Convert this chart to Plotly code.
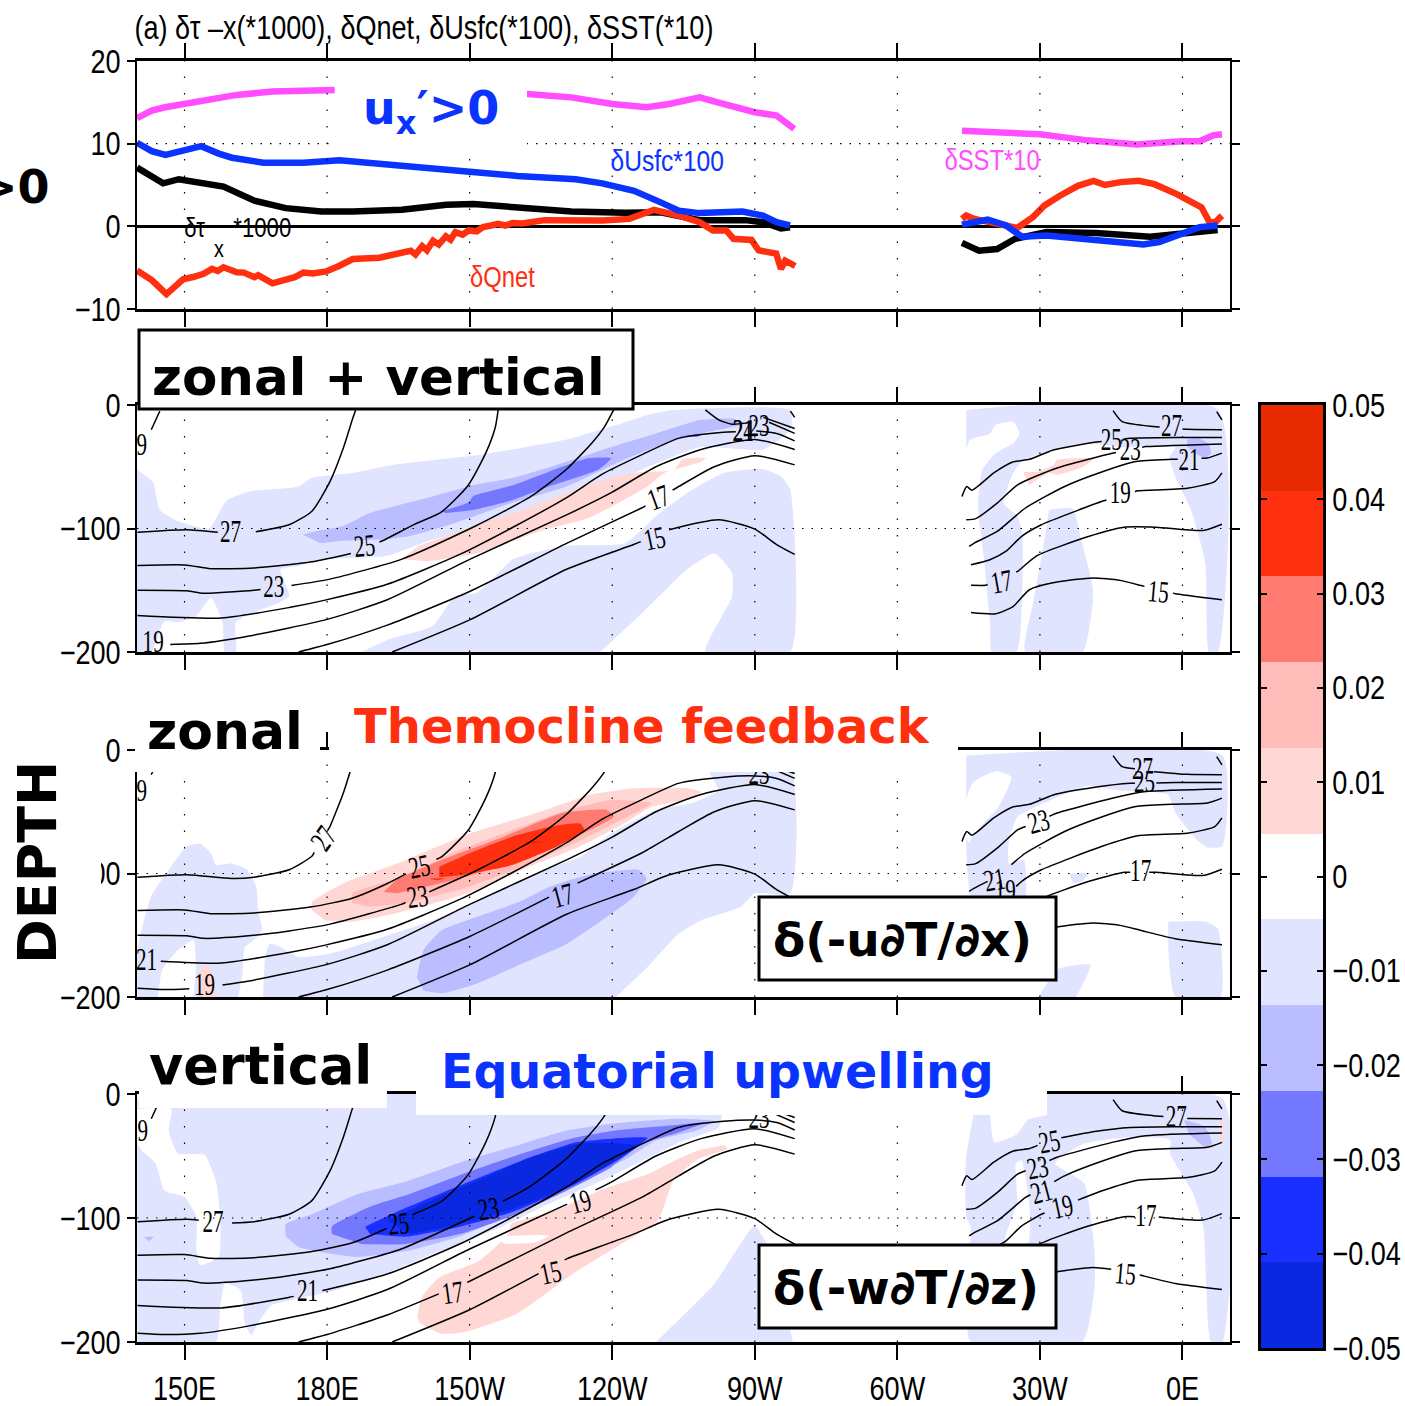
import plotly.graph_objects as go

W, H = 1405, 1406
SANS = "Liberation Sans, sans-serif"
SERIF = "Liberation Serif, serif"
BOLD = "DejaVu Sans, sans-serif"

# palette bands
C1, C2, C3, C4, C5 = "#e1e4ff", "#babdff", "#7478ff", "#1a30ff", "#0a28e0"
R1, R2, R3, R4, R5 = "#ffd8d6", "#ffbcb8", "#ff7a70", "#ff3010", "#e82a00"
WHITE = "#ffffff"
PINK, BLUE, RED = "#ff4dff", "#0a33ff", "#ff3010"

x_ticks = [150, 180, 210, 240, 270, 300, 330, 360]
x_labels = ["150E", "180E", "150W", "120W", "90W", "60W", "30W", "0E"]

# ---------- top panel series (longitude, value) ----------
sst_pac = [(140,13.1),(143.1,14),(145.9,14.4),(150,14.8),(157.2,15.4),(161,15.9),(168.5,16.3),(180,16.5),(181.6,16.5),
           (None,None),(220.1,16.1),(231.4,15.6),(240,14.8),(247.3,14.4),(252,14.8),(258.4,15.6),(262.2,15),(270,13.8),(274.6,13.4),(278.3,11.8)]
sst_atl = [(313.6,11.55),(324.8,11.3),(330,11.15),(340,10.4),(350.4,9.9),(360,10.3),(363.6,10.3),(366.4,11),(368.3,11.15)]
usfc_pac = [(140,10.1),(143.1,9.1),(146,8.65),(148.8,9.1),(153.5,9.7),(157.2,8.8),(160,8.3),(166.6,7.7),(175,7.7),(182.6,8),
            (200.4,7.2),(210,6.6),(220.1,6.1),(232.3,5.7),(237.9,5.2),(244.6,4.3),(250.2,2.9),(254,1.9),(258.4,1.6),(267.4,1.8),(271.7,1.3),(274.6,0.5),(277.4,0.1)]
usfc_atl = [(313.6,0.2),(319,0.8),(322.9,0.1),(326.2,-1.25),(331.4,-1.1),(341.8,-1.7),(351.8,-2.2),(355.1,-1.9),(360,-0.9),(363.6,-0.1),(367.4,0.1)]
taux_pac = [(140,7.1),(143.1,5.9),(145.5,5.2),(148.8,5.7),(153.5,5.3),(158.2,4.8),(164.7,3.1),(171.3,2.2),(178.8,1.8),(185.4,1.8),
            (195.7,2),(205.1,2.6),(210.8,2.7),(219.2,2.4),(231.4,1.8),(242.7,1.65),(250.2,1.7),(258.4,0.75),(268,0.75),(271.7,0.5),(275.5,-0.25),(277.4,-0.1)]
taux_atl = [(313.6,-2),(317.2,-2.95),(321,-2.75),(324.8,-1.5),(331.4,-0.7),(341.8,-0.8),(353.2,-1.25),(360,-0.85),(367.4,-0.45)]
qnet_pac = [(140,-5.35),(143.1,-6.5),(146.2,-8.2),(149.7,-6.4),(152,-6.1),(154,-5.75),(155.8,-5.15),(157,-5.4),(158.2,-4.95),(161,-5.55),(162.5,-5.6),(164.7,-6.15),(165.5,-5.9),(168.5,-6.9),
            (173.2,-6.15),(175,-5.6),(177,-5.7),(179.8,-5.45),(182.5,-4.8),(185.4,-3.95),(191,-3.8),(194,-3.4),(196,-3.3),(197.6,-2.95),(198.6,-3.4),(200,-2.4),(201,-2.9),(202.3,-1.75),
            (203.5,-2.2),(205,-1.2),(206,-1.6),(207,-0.7),(208.5,-1.0),(209.8,-0.5),(211.5,-0.6),(212.8,-0.1),(214.5,0.1),(216,0.3),(217.5,0.1),(219,0.4),(221,0.35),(225.8,0.75),
            (238,0.7),(243.6,0.9),(248.8,2),(254,1.3),(258.4,0.5),(261.2,-0.5),(264,-0.5),(265.5,-1.5),(269.3,-1.65),(270.8,-2.9),(274.5,-3.3),(275.5,-5.15),(276.4,-4.15),(278.5,-4.8)]
qnet_atl = [(313.6,0.9),(314.5,1.3),(316.2,0.9),(320,0.35),(325.2,-0.2),(328.5,1.1),(330.9,2.5),(334.2,3.7),(338,4.9),(341.3,5.5),(343.7,5),(347,5.35),
            (350.8,5.5),(354.1,5.1),(358.8,3.9),(364,2.3),(365.7,0.5),(366.9,0.5),(368.3,1.3)]

# ---------- isotherms shared by the three depth panels (longitude, depth) ----------
P29 = [(143,-20),(144.8,-5)]
P27 = [(140.1,-103),(150.5,-101),(159.9,-104),(164.6,-103),(172,-97),(176.8,-86),(180.6,-62),(183.4,-35),(185.3,-12),(186,-4)]
P25 = [(140.1,-130),(150,-129.5),(155.5,-132.5),(164.6,-132),(176.8,-127),(185.3,-120),(191.9,-109.5),(198.5,-96.5),(204.1,-86.5),(209.7,-65),(213.5,-38),(215.4,-18),(216,-4)]
P23 = [(140.1,-150),(150.5,-150.5),(154,-152.5),(164.6,-150),(172,-146.5),(180.6,-141),(195.6,-125),(210.7,-99),(217.3,-86),(222.9,-74),(230.4,-52),(236,-29.5),(238.4,-17.5),(240.3,-4)]
P21 = [(140.1,-170.5),(157.8,-172.5),(172,-164),(179.6,-158),(192.8,-145),(207.9,-121),(219.1,-99),(230.4,-75),(237.9,-56),(246.4,-40),(253.9,-27),(263.4,-22),(270,-21),(274.6,-23),(278.4,-29)]
P19 = [(140.1,-193),(145.8,-194),(153.3,-193),(163.6,-187),(180,-173.6),(192.8,-157.5),(210,-125),(230.4,-89),(239.8,-71),(249.2,-50),(258.7,-36),(270,-28),(278.4,-36)]
P17 = [(174,-200),(180,-194),(192.8,-178),(210,-151),(230.4,-112),(246.4,-83),(254,-66),(261.5,-50),(270,-41),(278.4,-48.5)]
P15 = [(193.7,-200),(210,-174),(230.4,-133),(244.5,-113),(252,-101),(262.4,-93),(270,-100.5),(274.6,-113),(278.4,-121)]
E1 = [(277.5,-5),(278.4,-10)]
E2 = [(259.6,-4),(262.4,-12),(265.2,-15.5),(270,-14),(272.7,-13.5),(278.4,-23)]
E3 = [(271.8,-10),(278.4,-19)]
A27a = [(345.4,-4.6),(347.3,-13.5),(353.9,-17.5),(361,-19.7),(368.3,-20)]
A27b = [(367.2,-5.4),(368.3,-12)]
A25 = [(313.6,-74),(314.6,-66),(315.7,-69),(320.3,-55),(324.4,-46),(327.8,-44),(332.8,-36.4),(341.9,-30),(349,-27),(358.5,-26.4),(368.3,-26.4)]
A23 = [(314.5,-93),(316.5,-92),(321,-79.5),(325.3,-64.7),(333.6,-51),(345.2,-39),(352.3,-33.7),(368.3,-31.5)]
A21 = [(315.1,-114.5),(316.1,-112),(321,-102.4),(326.9,-83.6),(335.2,-66),(342.7,-54.7),(350.2,-45.8),(357.7,-44),(365.2,-43),(368.3,-39)]
A19 = [(315.5,-129.4),(319.5,-125.3),(322.8,-118.6),(326.1,-106.5),(330.3,-97),(343.1,-78),(350.6,-69.5),(361,-67.4),(366.8,-62),(368.3,-55)]
A17 = [(315.5,-146),(318.6,-146),(325.3,-134.8),(329.4,-122),(340.2,-106.5),(347.7,-99),(354.4,-99),(364.3,-101.6),(368.3,-96.5)]
A15 = [(315.5,-168),(320.7,-169),(324.4,-163),(327.8,-149.6),(333.6,-143.4),(341.1,-140),(346.9,-142),(351.5,-146.4),(358.5,-152.8),(368.3,-157.7)]
ISOS = dict(P29=P29,P27=P27,P25=P25,P23=P23,P21=P21,P19=P19,P17=P17,P15=P15,E1=E1,E2=E2,E3=E3,
            A27a=A27a,A27b=A27b,A25=A25,A23=A23,A21=A21,A19=A19,A17=A17,A15=A15)

# isotherm label gaps per panel: line -> longitude range
gaps2 = dict(P27=(157,165),P25=(185,191),P23=(166,172.5),P19=(140,147),P17=(247,252.7),P15=(246,252),P21=(266,270.3),E2=(268.5,273),
             A27a=(355.2,360),A25=(343,347.5),A23=(346,351.5),A21=(359,364),A19=(344,350),A17=(319,325),A15=(352,358))
gaps3 = dict(P27=(177.3,180.1),P25=(196.6,203),P23=(196.5,201.5),P21=(140,145),P19=(151,158),P17=(226.7,232.7),E2=(268.5,273),
             A27a=(350,354),A25=(350,354.5),A23=(327,332),A21=(319,324),A19=(319,325),A17=(349,353))
gaps4 = dict(P27=(153,160),P25=(192.5,198),P23=(211,217),P21=(173,179),P19=(230.5,236.5),P17=(203.5,209.5),P15=(224.5,230),E2=(268.5,273),
             A27a=(356,361),A25=(329.5,334.5),A23=(327,332),A21=(328,333),A19=(331,338),A17=(350,355),A15=(345,351))

# isotherm labels: lon, depth, text, angle
labels2 = [(139.9,-34,"29",0),(159.7,-105,"27",0),(187.9,-114,"25",-5),(168.8,-149,"23",0),(143.4,-194,"19",0),(249.7,-75,"17",-20),(248.8,-108,"15",-12),
           (267.6,-23,"21",0),(267.6,-23,"24",0),(270.9,-19,"23",0),
           (357.7,-19,"27",0),(345,-30,"25",0),(349,-38,"23",0),(361.4,-46,"21",0),(346.9,-73,"19",0),(321.9,-143,"17",-10),(355,-151,"15",5)]
labels3 = [(139.9,-35,"29",0),(179.2,-71.6,"27",-55),(199.4,-94.6,"25",-12),(199,-119,"23",-8),(142,-172,"21",0),(154.2,-192,"19",0),(229.5,-117.6,"17",-15),(270.9,-21,"23",0),
           (351.6,-17,"27",0),(352,-27.4,"25",0),(329.6,-58,"23",-15),(320.5,-105,"21",-10),(322.7,-116,"19",0),(351.2,-100,"17",0)]
labels4 = [(140.1,-32,"29",0),(156,-105,"27",0),(195,-104.7,"25",-5),(214,-92.6,"23",-8),(175.9,-161,"21",0),(233.3,-87,"19",-15),(206.4,-160,"17",-8),(227,-143.6,"15",-12),(270.9,-21,"23",0),
           (358.7,-20,"27",0),(332,-38.7,"25",-10),(329.5,-59,"23",-10),(330.4,-79,"21",-15),(334.7,-91,"19",-12),(352.3,-100,"17",0),(348,-145,"15",5)]

# ---------- filled bands: zonal + vertical ----------
P2_C1_upper = [(140,-52),(143.4,-63),(144.8,-85),(148.6,-94),(155.2,-100),(158,-82),(159,-77),(163.6,-70),(174,-66),(176.8,-59),(185.3,-55),(194.7,-48),
    (212.6,-40),(230.4,-28),(239.8,-17.5),(247.4,-8),(253,-4),(277.5,-4),(277.5,-20),(271.8,-36),(258.7,-34),(244.5,-55),(230.4,-77),(218.2,-96),(202.2,-109),
    (192.8,-122),(178.7,-125),(174,-130.5),(170.2,-133),(172,-155),(164.6,-168),(160.8,-176),(160.8,-200),(158.5,-200),(158,-176),(155.6,-156),(152.4,-171),
    (148.6,-176),(145.8,-175),(143,-200),(140,-200)]
P2_C1_lower = [(187.2,-200),(192.8,-190),(202.2,-179),(206.9,-155),(211.6,-152),(219.1,-125),(230.4,-114),(242.7,-112),(249.2,-90),(255.8,-71),(263.4,-55),
    (271.8,-52),(275.6,-58),(277.5,-69),(277.5,-200),(259.6,-200),(265.2,-155),(265.2,-136),(261.5,-120),(255.8,-133),(246.4,-168),(237.5,-200)]
P2_C2 = [(174.9,-105),(177.8,-102),(183.4,-98),(189,-87.5),(202.2,-74),(210.7,-65),(220.1,-58),(230.4,-46),(239.8,-34),(249.2,-23),(258.7,-12),(265.2,-11),(268,-15),
    (258.7,-23),(252,-30),(242.7,-44),(230.4,-66),(219.1,-79),(206.9,-95.5),(197.5,-106),(190.9,-109),(183.4,-110),(178.7,-112)]
P2_C3 = [(204.1,-86),(209.7,-79),(210.7,-74),(219.1,-65),(226.7,-54),(235.1,-43),(239.8,-43),(237,-52.5),(226.7,-66),(218.2,-78),(210.7,-85),(205,-87.5)]
P2_C3b = [(254,-25.5),(258.7,-24),(257.8,-26)]
P2_R1 = [(195.6,-125),(199.4,-114),(206,-105),(214.4,-93),(221,-85),(230.4,-71),(237.9,-60.5),(244.5,-55),(253,-52.5),(254.8,-44),(259.6,-43),(258.7,-46),(251,-55),
    (247.4,-66),(235.1,-91.5),(225.7,-101),(211.6,-120),(201.3,-126.5)]
P2_A_C1 = [(314.5,-4),(367.5,-4),(367.5,-200),(365.6,-200),(364.8,-128),(361.8,-85),(358.5,-58),(357.3,-42),(358.5,-34),(346.9,-34),(340.2,-31),(332.8,-36),(326.1,-46),
    (324,-58),(322.4,-80),(325.3,-90),(326.3,-104),(326.3,-150),(325.1,-200),(319.9,-200),(319.5,-177),(318.2,-123),(317,-85),(317.8,-53),(320.7,-39),(324.4,-31),(325.7,-23),
    (324.4,-13.5),(320.7,-16),(319.5,-23),(315.3,-28),(314.5,-36)]
P2_A_C1b = [(331.9,-85),(336.9,-84),(338.5,-106),(341.1,-147),(341.1,-160),(339,-200),(326.9,-200),(328.6,-160),(330.7,-115)]
P2_A_C2 = [(361,-28),(363.5,-27),(365.6,-32),(366,-39),(364.8,-43),(362.7,-39),(361,-34)]
P2_A_R1 = [(326.5,-54),(329.4,-54),(332.8,-48.5),(333.6,-44.5),(339.4,-43),(341.1,-44.5),(338.5,-51),(333.6,-56.5),(331.9,-55),(327.7,-65)]

# ---------- filled bands: zonal ----------
P3_C1_left = [(140.1,-200),(140.1,-162),(142.9,-119),(146.7,-97),(150.5,-78),(153.3,-76),(155.6,-84),(156.6,-93),(159.9,-92),(163.2,-97),(165.1,-111),(165.5,-130),(166.3,-146),
    (164.6,-154),(162.7,-159.5),(162.2,-181),(161.3,-200)]
P3_W_left = [(144.4,-200),(145.3,-178),(148.6,-162),(151.9,-154),(152.4,-176),(151.9,-200)]
P3_C1_main = [(166.5,-200),(167,-167.6),(167.9,-156.8),(170.2,-159.5),(174,-167.6),(180.6,-165),(192.8,-150),(202.2,-138),(208.8,-127),(216.3,-113.5),(225.7,-97),(233.3,-86.5),
    (239.8,-67.5),(249.2,-48.6),(256.8,-43),(262.4,-32.4),(260.5,-17.6),(277.5,-16),(277.5,-116),(270,-116),(267.1,-127),(258.7,-138),(253.9,-149),(247.4,-176),(240.8,-200)]
P3_R1_small = [(152.8,-200),(153.3,-178),(154.2,-174),(155.6,-178),(156.6,-200)]
P3_C2 = [(198.9,-184),(200.3,-162),(204.1,-146),(211.6,-135),(221,-122),(226.7,-111),(235.1,-101),(245.5,-97),(247.2,-104),(244.5,-119),(238.9,-135),(230.4,-157),(221,-173),(211.6,-189),(204.1,-197),(200.3,-195)]
P3_R1 = [(176.8,-130),(176.8,-123),(183.4,-108),(194.7,-92),(209.7,-68),(225.7,-49),(235.1,-36.5),(244.5,-31),(255.8,-31),(258.7,-34),(256.8,-39),(248.3,-46),(242.7,-59),(233.3,-78),(221,-97),(209.7,-116),(194.7,-132),(185.3,-139),(179.7,-138)]
P3_R2 = [(185.3,-124),(185.3,-116),(194.7,-104),(207.9,-81),(221,-62),(230.4,-49),(239.8,-40.5),(248.3,-43),(242.7,-55),(233.3,-73),(221,-94.6),(209.7,-111),(196.6,-124),(189,-127)]
P3_R3 = [(191.9,-115),(194.7,-105),(204.1,-89),(217.3,-70),(229.5,-51),(238.9,-48.6),(240.3,-54),(232.4,-70),(219.1,-90.5),(206.9,-105),(194.7,-116)]
P3_R4 = [(203.6,-94.6),(209.7,-84),(219.1,-70),(228.5,-61),(233.3,-59.5),(234.1,-65),(228.5,-78),(219.1,-93),(208.8,-101),(203.6,-103)]
P3_R4b = [(201.3,-104),(205,-104),(203.1,-105.4)]
P3_R5 = [(221,-74),(225.7,-74),(223.4,-76)]
P3_A_C1 = [(314.5,-4.6),(368.4,-4.6),(368.4,-78),(365.3,-79),(363.1,-73),(358.7,-52),(356.9,-36),(347.2,-33),(340.2,-29),(333.8,-38),(325.3,-54),(323.5,-73),(323.5,-92),(326.6,-89),(326.6,-125),(316,-125),(314.5,-80)]
P3_A_W = [(314.5,-70),(314.5,-40),(316,-26),(320.9,-17),(324,-22),(321.3,-46),(317.5,-62),(315,-75)]
P3_A_C1b = [(336.2,-100),(340,-100),(339,-106),(337,-108)]
P3_A_C1c = [(357,-139),(365,-139),(367.5,-145),(368,-200),(358.5,-200),(357,-160)]
P3_A_C1d = [(329.7,-200),(334,-177),(340.6,-174),(337.6,-200)]

# ---------- filled bands: vertical ----------
P4_C1 = [(140.1,-4),(263,-4),(262.4,-27),(255,-37.6),(246.4,-53.7),(237.9,-69.8),(226.7,-88.6),(217.3,-106),(207.9,-121),(202.2,-129),(192.8,-144),(181.5,-158.5),(172,-166.5),(168.2,-170.5),
    (165,-188),(164.1,-194.6),(162.7,-185),(161.8,-158),(158.5,-153),(157.5,-172),(156.6,-200),(140.1,-200)]
P4_W = [(140.1,-12),(147.2,-12),(146.7,-29.5),(148.6,-48),(154.2,-49),(156.6,-70),(157.5,-99),(157.2,-131.5),(153.3,-138),(152.5,-126),(152.5,-99),(150,-83),(145.8,-78),(143.9,-56),(141,-45.6),(140.1,-40)]
P4_C1b = [(249.2,-200),(253.9,-182.5),(261.5,-153),(270,-106),(271.8,-116),(274.6,-137),(278,-200)]
P4_C2spot = [(141.5,-115.4),(143.5,-115),(142.5,-119)]
P4_C2 = [(171.3,-115),(171.3,-105),(176.8,-97),(186.2,-81),(196.6,-70.5),(209.7,-53),(221,-40.3),(230.4,-29.5),(239.8,-24),(253.9,-20),(261.5,-22),(257.8,-29.5),(249.2,-37.6),(243.6,-51),(236,-64.4),
    (226.7,-80.5),(217.3,-99),(207.9,-115),(197.5,-126),(186.2,-131.5),(178.7,-127.5),(174,-123.5)]
P4_C3 = [(181,-113),(181,-107),(189,-91),(197.5,-80.5),(209.7,-63),(221,-48),(231.3,-36),(240.7,-29.5),(252,-25.5),(259.6,-22.8),(254,-31),(246.4,-40),(239.8,-59),(230.4,-78),(219.1,-98),(207.9,-113),(196.6,-121),(187.2,-121)]
P4_C4 = [(188,-107),(194.7,-95),(209.7,-71),(221,-53.7),(232.4,-39),(243.6,-35),(247.4,-35.4),(241.7,-52),(232.4,-72.5),(219.1,-95),(207.9,-107),(196.6,-115),(189,-113)]
P4_C5 = [(192.8,-102),(200.3,-88.6),(211.6,-70),(222.9,-51),(233.3,-40),(241.7,-40),(245.5,-41.6),(239.8,-56),(231.3,-74),(219.1,-92.6),(207.9,-104.7),(197.5,-113)]
P4_R1 = [(199,-180),(199.9,-164),(203.6,-148),(212.1,-134.2),(218.2,-113),(218.7,-105),(228,-94),(237.4,-77.8),(247.7,-64.4),(252.4,-55),(258.1,-45.6),(263.7,-41.6),(264.2,-44.3),(258.1,-52.3),(252.9,-69.8),
    (249.6,-102),(242,-120.8),(231.7,-145),(220.1,-177),(209,-192),(204.1,-193.3),(199.5,-185)]
P4_Rhole = [(215.4,-115),(226.7,-114),(223.9,-119.5),(217.3,-120.8)]
P4_A_C1 = [(316,-4),(368.4,-4),(368.4,-200),(366,-200),(364.4,-107),(362.2,-80),(357.4,-48),(357.4,-37),(348.1,-35),(339.3,-40),(333.2,-56),(339.3,-72),(341.5,-126),(341.5,-156),(338.9,-200),(315.4,-200),(315.4,-107),(314.5,-99),(314.4,-53),(316,-17)]
P4_A_W1 = [(319.5,-17),(320.4,-39),(325.3,-32),(327.4,-21),(331.3,-17),(319.5,-15)]
P4_A_W2 = [(324.8,-56),(326.1,-53.5),(327.9,-94),(327.5,-120),(322.6,-120),(325.3,-88)]
P4_A_C2 = [(360.4,-21),(364.8,-26.6),(366.2,-40),(364.8,-42.7),(361.3,-32)]
P4_A_R1 = [(367.9,-21),(368.5,-21),(368.5,-40),(367.9,-40)]

# ---------- colour key ----------
key_edges = [-0.05 + i * 0.1 / 11 for i in range(11)]
key_colors = [C5, C4, C3, C2, C1, WHITE, R1, R2, R3, R4, R5]
key_ticks = [-0.05,-0.04,-0.03,-0.02,-0.01,0,0.01,0.02,0.03,0.04,0.05]
key_labels = ["−0.05","−0.04","−0.03","−0.02","−0.01","0","0.01","0.02","0.03","0.04","0.05"]

fig = go.Figure()

def line(points, color, width, sub):
    fig.add_trace(go.Scatter(x=[p[0] for p in points], y=[p[1] for p in points], mode="lines",
                             line=dict(color=color, width=width), xaxis="x" + sub, yaxis="y" + sub,
                             hoverinfo="skip", showlegend=False, connectgaps=False))

def poly(points, color, sub):
    fig.add_trace(go.Scatter(x=[p[0] for p in points], y=[p[1] for p in points], mode="lines", fill="toself",
                             fillcolor=color, line=dict(width=0, color=color, shape="spline", smoothing=0.5),
                             xaxis="x" + sub, yaxis="y" + sub, hoverinfo="skip", showlegend=False))

def interp_at(points, lon):
    for (x0, y0), (x1, y1) in zip(points, points[1:]):
        if x0 <= lon <= x1 and x1 != x0:
            return y0 + (y1 - y0) * (lon - x0) / (x1 - x0)
    return None

def isotherm(points, gap, sub):
    if gap is None:
        pts = points
    else:
        a, b = gap
        pts = [p for p in points if p[0] < a]
        ya = interp_at(points, a)
        if ya is not None:
            pts.append((a, ya))
        pts.append((None, None))
        yb = interp_at(points, b)
        if yb is not None:
            pts.append((b, yb))
        pts += [p for p in points if p[0] > b]
    fig.add_trace(go.Scatter(x=[p[0] for p in pts], y=[p[1] for p in pts], mode="lines",
                             line=dict(color="black", width=1.5, shape="spline", smoothing=0.6),
                             xaxis="x" + sub, yaxis="y" + sub, hoverinfo="skip", showlegend=False, connectgaps=False))

annotations = []
LABEL_SIZE = 31

def isotherm_labels(labels, sub):
    flat = [l for l in labels if l[3] == 0]
    fig.add_trace(go.Scatter(x=[l[0] for l in flat], y=[l[1] for l in flat], text=[l[2] for l in flat], mode="text",
                             textposition="middle center", textfont=dict(family=SERIF, size=LABEL_SIZE, color="black"),
                             xaxis="x" + sub, yaxis="y" + sub, hoverinfo="skip", showlegend=False))
    for l in labels:
        if l[3] != 0:
            annotations.append(dict(x=l[0], y=l[1], xref="x" + sub, yref="y" + sub, text=l[2], showarrow=False,
                                    textangle=l[3], font=dict(family=SERIF, size=LABEL_SIZE, color="black")))

# top panel
for s, c in [(sst_pac, PINK), (sst_atl, PINK), (taux_pac, "black"), (taux_atl, "black"),
             (qnet_pac, RED), (qnet_atl, RED), (usfc_pac, BLUE), (usfc_atl, BLUE)]:
    line(s, c, 6.5, "")

# panel 2
for p, c in [(P2_C1_upper, C1), (P2_C1_lower, C1), (P2_A_C1, C1), (P2_A_C1b, C1), (P2_C2, C2), (P2_A_C2, C2),
             (P2_C3, C3), (P2_C3b, C3), (P2_R1, R1), (P2_A_R1, R1)]:
    poly(p, c, "2")
# panel 3
for p, c in [(P3_C1_left, C1), (P3_W_left, WHITE), (P3_R1_small, R1), (P3_C1_main, C1), (P3_A_C1, C1), (P3_A_W, WHITE), (P3_A_C1b, C1),
             (P3_A_C1c, C1), (P3_A_C1d, C1), (P3_C2, C2), (P3_R1, R1), (P3_R2, R2), (P3_R3, R3), (P3_R4, R4), (P3_R4b, R4), (P3_R5, R5)]:
    poly(p, c, "3")
# panel 4
for p, c in [(P4_C1, C1), (P4_W, WHITE), (P4_C1b, C1), (P4_C2spot, C2), (P4_C2, C2), (P4_C3, C3), (P4_C4, C4), (P4_C5, C5), (P4_R1, R1), (P4_Rhole, WHITE),
             (P4_A_C1, C1), (P4_A_W1, WHITE), (P4_A_W2, WHITE), (P4_A_C2, C2), (P4_A_R1, R1)]:
    poly(p, c, "4")

for sub, gaps, labels in [("2", gaps2, labels2), ("3", gaps3, labels3), ("4", gaps4, labels4)]:
    for name, pts in ISOS.items():
        isotherm(pts, gaps.get(name), sub)
    isotherm_labels(labels, sub)

# colour key
fig.add_trace(go.Bar(x=[0] * 11, y=[0.1 / 11] * 11, base=key_edges, width=1, marker=dict(color=key_colors, line=dict(width=0)),
                     xaxis="x5", yaxis="y5", hoverinfo="skip", showlegend=False))

def xdom(a, b):
    return [a / W, b / W]

def ydom(top, bottom):
    return [1 - bottom / H, 1 - top / H]

panels = {"": (61, 309, [-10, 20], [-10, 0, 10, 20], ["−10", "0", "10", "20"]),
          "2": (405, 652, [-200, 0], [-200, -100, 0], ["−200", "−100", "0"]),
          "3": (750, 997, [-200, 0], [-200, -100, 0], ["−200", "−100", "0"]),
          "4": (1094, 1342, [-200, 0], [-200, -100, 0], ["−200", "−100", "0"])}

layout = dict(template="none", width=W, height=H, autosize=False, margin=dict(l=0, r=0, t=0, b=0, pad=0), paper_bgcolor="white", plot_bgcolor="white",
              showlegend=False, barmode="overlay", bargap=0)
tick_font = dict(family=SANS, size=33, color="black")
for sub, (top, bottom, rng, tv, tt) in panels.items():
    layout["xaxis" + sub] = dict(domain=xdom(137, 1230), range=[140, 370], tickvals=x_ticks, ticktext=x_labels, ticks="outside", ticklen=15, tickwidth=1.5,
                                 tickcolor="black", showline=True, linecolor="black", linewidth=2.5, mirror="ticks", showgrid=False, zeroline=False, automargin=False,
                                 anchor="y" + sub, showticklabels=(sub == "4"), tickfont=tick_font, ticklabelstandoff=1)
    layout["yaxis" + sub] = dict(domain=ydom(top, bottom), range=rng, tickvals=tv, ticktext=tt, ticks="outside", ticklen=8, tickwidth=2, automargin=False,
                                 tickcolor="black", showline=True, linecolor="black", linewidth=1.5, mirror="ticks", showgrid=False,
                                 zeroline=(sub == ""), zerolinecolor="black", zerolinewidth=2.5, anchor="x" + sub, tickfont=tick_font)
layout["xaxis5"] = dict(domain=xdom(1261, 1323), range=[-0.5, 0.5], showticklabels=False, ticks="", showline=True, linecolor="black", linewidth=2.5, automargin=False,
                        mirror=True, showgrid=False, zeroline=False, anchor="y5")
layout["yaxis5"] = dict(domain=ydom(405, 1348), range=[-0.05, 0.05], tickvals=key_ticks, ticktext=key_labels, side="right", ticks="inside", ticklen=6, tickwidth=1.5, automargin=False,
                        tickcolor="black", showline=True, linecolor="black", linewidth=2.5, mirror="ticks", showgrid=False, zeroline=False, anchor="x5", tickfont=tick_font)

shapes = []
# dotted graticule
for sub, (top, bottom, rng, tv, tt) in panels.items():
    for xv in x_ticks:
        shapes.append(dict(type="line", xref="x" + sub, yref="y" + sub, x0=xv, x1=xv, y0=rng[0], y1=rng[1], layer="above",
                           line=dict(color="black", width=1.2, dash="1.5px,15px")))
    mid = 10 if sub == "" else -100
    shapes.append(dict(type="line", xref="x" + sub, yref="y" + sub, x0=140, x1=370, y0=mid, y1=mid, layer="above",
                       line=dict(color="black", width=1.2, dash="1.5px,8px")))

def rect(x0, y0, x1, y1, border=False):
    shapes.append(dict(type="rect", xref="paper", yref="paper", x0=x0 / W, x1=x1 / W, y0=1 - y0 / H, y1=1 - y1 / H, layer="above",
                       fillcolor="white", line=dict(color="black" if border else "white", width=3 if border else 0)))

rect(335, 63, 527, 148)
rect(135, 700, 320, 772)
rect(329, 700, 958, 772)
rect(139, 1040, 387, 1108)
rect(416, 1040, 1047, 1115)
rect(0, 810, 101, 930)
rect(139, 330, 633, 409, True)
rect(759, 897, 1056, 980, True)
rect(759, 1245, 1056, 1328, True)

def text(cx, cy, s, family, size, color, weight=None, xanchor="center", angle=0):
    f = dict(family=family, size=size, color=color)
    if weight:
        f["weight"] = weight
    annotations.append(dict(x=cx / W, y=1 - cy / H, xref="paper", yref="paper", text=s, showarrow=False, font=f,
                            xanchor=xanchor, yanchor="middle", textangle=angle))

text(424, 28, "(a) δτ –x(*1000), δQnet, δUsfc(*100), δSST(*10)", SANS, 33, "black")
text(195, 228, "δτ", SANS, 27, "black")
text(219, 248, "x", SANS, 24, "black")
text(262, 228, "*1000", SANS, 27, "black")
text(667, 160, "δUsfc*100", SANS, 30, BLUE)
text(992, 160, "δSST*10", SANS, 29, PINK)
text(502, 277, "δQnet", SANS, 29, RED)
text(431, 111, "u<sub>x</sub>′>0", BOLD, 46, BLUE, "bold")
text(52, 187, ">0", BOLD, 46, "black", "bold", xanchor="right")
text(150, 377, "zonal + vertical", BOLD, 51.5, "black", "bold", xanchor="left")
text(145, 731, "zonal", BOLD, 52, "black", "bold", xanchor="left")
text(352, 726, "Themocline feedback", BOLD, 48, RED, "bold", xanchor="left")
text(147, 1065, "vertical", BOLD, 52.5, "black", "bold", xanchor="left")
text(439, 1071, "Equatorial upwelling", BOLD, 47.5, BLUE, "bold", xanchor="left")
text(903, 939, "δ(-u∂T/∂x)", BOLD, 47, "black", "bold")
text(906, 1287, "δ(-w∂T/∂z)", BOLD, 47, "black", "bold")
text(37, 863, "DEPTH", BOLD, 54, "black", "bold", angle=-90)

layout["shapes"] = shapes
layout["annotations"] = annotations
fig.update_layout(**layout)

# the reference's light text is horizontally condensed: narrow the glyphs of the real text elements
condense = """
document.body.style.margin='0';document.body.style.overflow='hidden';
document.querySelectorAll('svg text').forEach(function(t){
  var f=getComputedStyle(t).fontFamily, k=f.indexOf('Serif')>=0?0.68:(f.indexOf('Liberation Sans')>=0?0.82:1);
  var n=t.getComputedTextLength();
  if(k!==1&&n>0){t.setAttribute('lengthAdjust','spacingAndGlyphs');t.setAttribute('textLength',n*k);}
});
"""
fig.write_html("out.html", post_script=condense, config={"displayModeBar": False})
